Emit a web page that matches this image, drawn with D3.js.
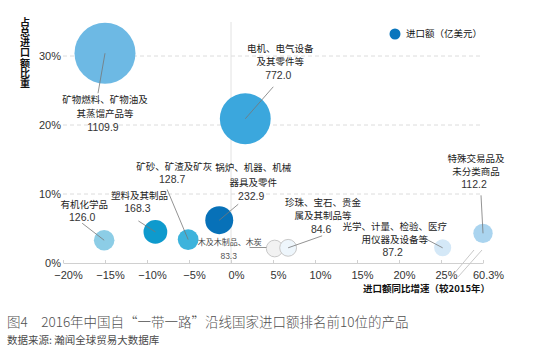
<!DOCTYPE html>
<html><head><meta charset="utf-8">
<script src="https://cdn.jsdelivr.net/npm/d3@7/dist/d3.min.js"></script>
<style>
html,body{margin:0;padding:0;background:#fff;}
svg{display:block;font-family:"Noto Sans CJK SC","Liberation Sans",sans-serif;}
</style></head>
<body>
<svg id="chart" width="533" height="360"></svg>
<script>
// ---- data ----
const categories = [
  ["矿物燃料、矿物油及","其蒸馏产品等"],
  ["电机、电气设备","及其零件等"],
  ["锅炉、机器、机械","器具及零件"],
  ["矿砂、矿渣及矿灰"],
  ["塑料及其制品"],
  ["有机化学品"],
  ["木及木制品、木炭"],
  ["珍珠、宝石、贵金","属及其制品等"],
  ["光学、计量、检验、医疗","用仪器及设备等"],
  ["特殊交易品及","未分类商品"]
];
const growth  = [-15.0, 1.7, -1.4, -5.1, -9.0, -15.1, 5.2, 6.8, 26.4, 60.3];   // 同比增速 %
const share   = [30.4, 20.9, 6.2, 3.4, 4.5, 3.3, 2.1, 2.2, 2.2, 4.3];          // 占总进口额比重 %
const imports = [1109.9, 772.0, 232.9, 128.7, 168.3, 126.0, 83.3, 84.6, 87.2, 112.2]; // 亿美元
const xTicks = [-20, -15, -10, -5, 0, 5, 10, 15, 20, 25, 60.3];
const yTicks = [0, 10, 20, 30];

// ---- styles / layout (annotations) ----
const fills   = ["#6db9e4","#3ba7dd","#0771b8","#3db3dc","#0e9acd","#8ccde6","#f2f2f2","#eef6fc","#d4e8f7","#aad4ef"];
const strokes = [null,null,null,null,null,null,"#c8c8c8","#c8c8c8",null,null];
const labelLayout = [
  {dx:0,   dy:47,  lh:14, lx:-7,  ly:40},
  {dx:35,  dy:-70, lh:13.5, lx:28, ly:-32},
  {dx:34,  dy:-52, lh:14.5, lx:19, ly:-16},
  {dx:-14, dy:-73, lh:13, lx:-21, ly:-50},
  {dx:-16, dy:-36, lh:13.5, lx:-17, ly:-11},
  {dx:-20, dy:-35, lh:13, lx:-22, ly:-17},
  {dx:-45, dy:-6,  lh:14, lx:-25, ly:-1, small:true},
  {dx:35,  dy:-45, lh:13.5, lx:34, ly:-12},
  {dx:-48, dy:-21, lh:13, lx:-19, ly:-10},
  {dx:-7,  dy:-74, lh:13, lx:-2, ly:-38}
];

const svg = d3.select("#chart");
const x = d3.scaleLinear().domain([-20, 25, 60.3]).range([63, 441, 483]);
const y = d3.scaleLinear().domain([0, 30]).range([263, 56]);
const r = d3.scaleSqrt().domain([0, 1109.9]).range([0, 30.5]);

// gridlines
svg.append("g").selectAll("line").data(yTicks.filter(d => d > 0)).join("line")
  .attr("x1", x(-20)).attr("x2", x(60.3))
  .attr("y1", d => y(d)).attr("y2", d => y(d))
  .attr("stroke", "#dcdcdc").attr("stroke-width", 1).attr("stroke-dasharray", "4,3");

// zero vertical line
svg.append("line").attr("x1", x(0)).attr("x2", x(0)).attr("y1", 22).attr("y2", y(0))
  .attr("stroke", "#e2e2e2").attr("stroke-width", 1);

// x axis
const xAxis = d3.axisBottom(x).tickValues(xTicks).tickSize(0)
  .tickFormat(d => (d < 0 ? "\u2212" + Math.abs(d) : d) + "%");
const gx = svg.append("g").attr("transform", `translate(0,${y(0)})`).call(xAxis);
gx.select(".domain").attr("stroke", "#d0d0d0");
gx.selectAll(".tick text").attr("dx", 5).attr("dy", 13)
  .attr("font-size", 11).attr("fill", "#333").attr("font-family", "'Liberation Sans', Arial, sans-serif");
gx.selectAll(".tick").append("line").attr("y1", 0).attr("y2", -3).attr("stroke", "#d0d0d0");

// y axis labels
const yAxis = d3.axisLeft(y).tickValues(yTicks).tickSize(0).tickFormat(d => d + "%");
const gy = svg.append("g").attr("transform", `translate(${x(-20)},0)`).call(yAxis);
gy.select(".domain").remove();
gy.selectAll(".tick text").attr("dx", 1).attr("font-size", 11).attr("fill", "#333")
  .attr("font-family", "'Liberation Sans', Arial, sans-serif");

// break marks
const bx = x(60.3);
[[-30, 0, 21], [-25, 2, 24]].forEach(([o, dd, w]) => {
  svg.append("line").attr("x1", bx + o).attr("y1", y(0) + 12 + dd)
    .attr("x2", bx + o + w).attr("y2", y(0) - 13)
    .attr("stroke", "#c8c8c8").attr("stroke-width", 1);
});

// bubbles
const data = categories.map((c, i) => ({c, g: growth[i], s: share[i], v: imports[i], i}));
svg.append("g").selectAll("circle").data(data).join("circle")
  .attr("cx", d => x(d.g)).attr("cy", d => y(d.s)).attr("r", d => r(d.v))
  .attr("fill", d => fills[d.i])
  .attr("stroke", d => strokes[d.i] || "none").attr("stroke-width", 1);

// leader lines and labels
const ann = svg.append("g");
data.forEach(d => {
  const L = labelLayout[d.i];
  const cx = x(d.g), cy = y(d.s);
  if (L.small) {
    ann.append("line").attr("x1", cx + L.lx).attr("y1", cy + L.ly)
      .attr("x2", cx - r(d.v)).attr("y2", cy + L.ly).attr("stroke", "#777").attr("stroke-width", 0.8);
  } else {
    ann.append("line").attr("x1", cx).attr("y1", cy).attr("x2", cx + L.lx).attr("y2", cy + L.ly)
      .attr("stroke", "#777").attr("stroke-width", 0.8);
  }
  const t = ann.append("text").attr("text-anchor", "middle").attr("dominant-baseline", "middle");
  d.c.forEach((s, k) => {
    t.append("tspan").attr("x", cx + L.dx).attr("y", cy + L.dy + k * L.lh)
      .attr("dominant-baseline", "middle")
      .attr("font-size", L.small ? 8 : 9.5).attr("fill", L.small ? "#444" : "#222").text(s);
  });
  t.append("tspan").attr("x", cx + L.dx - (L.small ? 1 : 2)).attr("y", cy + L.dy + d.c.length * L.lh)
    .attr("dominant-baseline", "middle")
    .attr("font-size", L.small ? 8.5 : 10.5).attr("fill", L.small ? "#555" : "#333")
    .attr("font-family", "'Liberation Sans', Arial, sans-serif")
    .text(d.v.toFixed(1));
});

// y-axis title (vertical, upright characters)
svg.append("text").attr("x", 25).attr("y", 17)
  .style("writing-mode", "vertical-rl").style("text-orientation", "upright")
  .attr("font-size", 10).attr("font-weight", "bold").attr("fill", "#111")
  .style("letter-spacing", "0.2px")
  .text("占总进口额比重");

// x-axis title
svg.append("text").attr("x", 490).attr("y", 289).attr("text-anchor", "end")
  .attr("dominant-baseline", "middle").attr("font-size", 9.5).attr("font-weight", "bold")
  .attr("fill", "#111").text("进口额同比增速（较2015年）");

// legend
svg.append("circle").attr("cx", 395).attr("cy", 34).attr("r", 5.5).attr("fill", "#0a76bd");
svg.append("text").attr("x", 406).attr("y", 34).attr("dominant-baseline", "middle")
  .attr("font-size", 9.5).attr("fill", "#111").text("进口额（亿美元）");

// caption
svg.append("text").attr("x", 7).attr("y", 323).attr("dominant-baseline", "middle")
  .attr("font-size", 13.5).attr("fill", "#505050").attr("font-weight", 300)
  .text("图4\u30002016年中国自“一带一路”沿线国家进口额排名前10位的产品");
svg.append("text").attr("x", 7).attr("y", 341).attr("dominant-baseline", "middle")
  .attr("font-size", 10.5).attr("fill", "#4a4a4a")
  .text("数据来源: 瀚闻全球贸易大数据库");
</script>
</body></html>
